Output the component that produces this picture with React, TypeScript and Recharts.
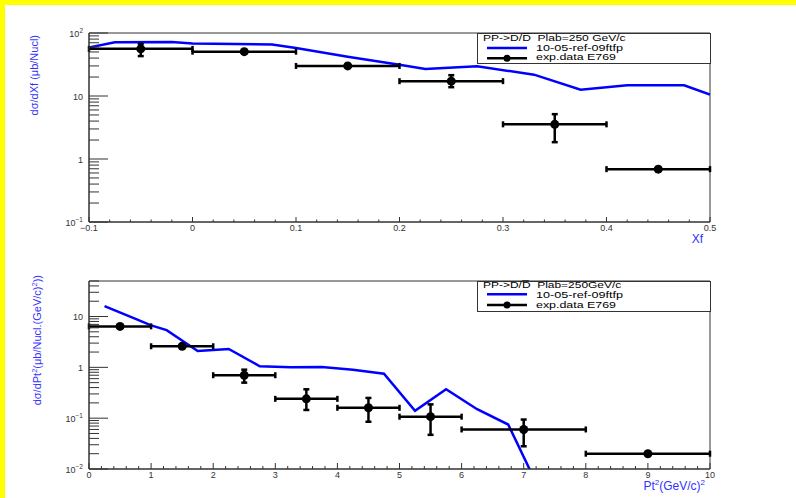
import React from "react";
import {
  ComposedChart,
  Line,
  Scatter,
  XAxis,
  YAxis,
  ErrorBar,
  ReferenceArea,
  Label,
} from "recharts";

// ---------------- data: Xf panel ----------------
const xfBinCenters = [-0.05, 0.05, 0.15, 0.25, 0.35, 0.45];
const xfValues = [56, 50.5, 30, 17.2, 3.55, 0.69];
const xfHalfWidths = [0.05, 0.05, 0.05, 0.05, 0.05, 0.05];
const xfErrLow = [13, 3, 2, 3.4, 1.7, 0.05];
const xfErrHigh = [11, 3, 2, 4.2, 1.6, 0.05];

const xfCurveX = [-0.1, -0.075, -0.02, 0, 0.077, 0.1, 0.15, 0.2, 0.225, 0.275, 0.33, 0.375, 0.42, 0.475, 0.5];
const xfCurveY = [59, 71, 72, 68, 65.7, 58, 42, 31.4, 26.8, 29.6, 21.8, 12.6, 14.8, 14.8, 10.5];

const xfMajorLabels = ["\u22120.1", "0", "0.1", "0.2", "0.3", "0.4", "0.5"];

// ---------------- data: Pt^2 panel ----------------
const ptBinCenters = [0.5, 1.5, 2.5, 3.5, 4.5, 5.5, 7, 9];
const ptValues = [6.4, 2.6, 0.7, 0.24, 0.16, 0.107, 0.06, 0.02];
const ptHalfWidths = [0.5, 0.5, 0.5, 0.5, 0.5, 0.5, 1, 1];
const ptErrLow = [0.4, 0.25, 0.2, 0.095, 0.075, 0.06, 0.032, 0.001];
const ptErrHigh = [0.4, 0.25, 0.2, 0.13, 0.09, 0.08, 0.034, 0.001];

const ptCurveX = [0.25, 0.75, 1.0, 1.25, 1.75, 2.0, 2.25, 2.75, 3.25, 3.75, 4.25, 4.75, 5.25, 5.75, 6.25, 6.75, 7.25];
const ptCurveY = [16, 9.0, 6.7, 5.4, 2.1, 2.2, 2.3, 1.05, 1.0, 1.02, 0.9, 0.75, 0.14, 0.37, 0.15, 0.075, 0.004];

const ptMajorLabels = ["0", "1", "2", "3", "4", "5", "6", "7", "8", "9", "10"];

// ---------------- legend texts ----------------
const modelName = "10-05-ref-09ftfp";
const expName = "exp.data E769";
const xfLegendTitle = "PP->D/D\u0305  Plab=250 GeV/c";
const ptLegendTitle = "PP->D/D\u0305  Plab=250GeV/c";

// ---------------- derived tables ----------------
const xfData = xfBinCenters.map((x, i) => ({
  x,
  y: xfValues[i],
  ex: xfHalfWidths[i],
  ey: [xfErrLow[i], xfErrHigh[i]],
}));
const xfCurve = xfCurveX.map((x, i) => ({ x, y: xfCurveY[i] }));
const ptData = ptBinCenters.map((x, i) => ({
  x,
  y: ptValues[i],
  ex: ptHalfWidths[i],
  ey: [ptErrLow[i], ptErrHigh[i]],
}));
const ptCurve = ptCurveX.map((x, i) => ({ x, y: ptCurveY[i] }));

const r3 = (v: number) => Math.round(v * 1000) / 1000;
const xfTicks = Array.from({ length: 31 }, (_, i) => r3(-0.1 + i * 0.02));
const ptTicks = Array.from({ length: 51 }, (_, i) => r3(i * 0.2));

function logTicks(lo: number, hi: number, max: number) {
  const out: number[] = [];
  for (let e = lo; e <= hi; e++) {
    for (let m = 1; m < 10; m++) {
      const v = Number((m * Math.pow(10, e)).toPrecision(3));
      if (v <= max + 1e-9) out.push(v);
    }
  }
  return out;
}
const xfYTicks = logTicks(-1, 2, 100);
const ptYTicks = logTicks(-2, 1, 50);

// ---------------- styling ----------------
const FONT = '"Liberation Sans", Arial, Helvetica, sans-serif';
const BLUE_TEXT = "#3333ff";
const AXIS = "#333333";

function LogTick(props: any) {
  const { x, y, payload } = props;
  const v = payload.value;
  const lg = Math.log10(v);
  const e = Math.round(lg);
  const major = Math.abs(lg - e) < 1e-6;
  return (
    <g>
      <line x1={x} x2={x + (major ? 19 : 10)} y1={y} y2={y} stroke={AXIS} strokeWidth={1} />
      {major && (
        <text x={x - 6} y={y + 3.5} textAnchor="end" fontSize={9} fill={AXIS} fontFamily={FONT}>
          {e === 0 ? (
            "1"
          ) : e === 1 ? (
            "10"
          ) : (
            <>
              10
              <tspan dy={-4} fontSize={6.5}>
                {e < 0 ? "\u2212" + -e : String(e)}
              </tspan>
            </>
          )}
        </text>
      )}
    </g>
  );
}

function makeXTick(origin: number, majorStep: number, labels: string[], majorLen: number, minorLen: number) {
  return function XTick(props: any) {
    const { x, y, payload } = props;
    const v = payload.value;
    const r = (v - origin) / majorStep;
    const k = Math.round(r);
    const major = Math.abs(r - k) < 1e-6;
    return (
      <g>
        <line x1={x} x2={x} y1={y} y2={y - (major ? majorLen : minorLen)} stroke={AXIS} strokeWidth={1} />
        {major && (
          <text x={x} y={y + 9} textAnchor="middle" fontSize={9} fill={AXIS} fontFamily={FONT}>
            {labels[k]}
          </text>
        )}
      </g>
    );
  };
}

const xfTick = makeXTick(-0.1, 0.1, xfMajorLabels, 5, 2.5);
const ptTick = makeXTick(0, 1, ptMajorLabels, 6, 3);

const ExpDot = (p: any) => <circle cx={p.cx} cy={p.cy} r={4.5} fill="#000" />;

function LegendBox(props: {
  left: number;
  top: number;
  title: string;
  titleScale: number;
  rows: number[];
}) {
  const { left, top, title, titleScale, rows } = props;
  return (
    <svg
      style={{ position: "absolute", left, top, overflow: "visible" }}
      width={234}
      height={31}
    >
      <rect x={0.5} y={0.5} width={233} height={30} fill="#fff" stroke={AXIS} strokeWidth={1} />
      <text
        x={0}
        y={0}
        transform={`translate(6 ${rows[0]}) scale(${titleScale} 1)`}
        fontSize={9.5}
        fontFamily={FONT}
        fill="#000"
        style={{ whiteSpace: "pre" }}
      >
        {title}
      </text>
      <line x1={10} x2={50} y1={rows[3]} y2={rows[3]} stroke="#0000ff" strokeWidth={2.5} />
      <text x={59} y={rows[1]} fontSize={9.5} fontFamily={FONT} fill="#000" textLength={87} lengthAdjust="spacingAndGlyphs">
        {modelName}
      </text>
      <line x1={10} x2={50} y1={rows[4]} y2={rows[4]} stroke="#000" strokeWidth={2.5} />
      <circle cx={30} cy={rows[4]} r={3.5} fill="#000" />
      <text x={59} y={rows[2]} fontSize={9.5} fontFamily={FONT} fill="#000" textLength={80} lengthAdjust="spacingAndGlyphs">
        {expName}
      </text>
    </svg>
  );
}

function XfPanel() {
  return (
    <ComposedChart width={796} height={249} margin={{ top: 33, right: 86, bottom: 0, left: 0 }}>
      <XAxis
        type="number"
        dataKey="x"
        domain={[-0.1, 0.5]}
        allowDataOverflow
        ticks={xfTicks}
        interval={0}
        tickSize={0}
        tickMargin={0}
        tickLine={false}
        tick={xfTick}
        height={27}
        axisLine={{ stroke: AXIS }}
      >
        <Label
          content={() => (
            <text x={703} y={243} textAnchor="end" fontSize={12} fill={BLUE_TEXT} fontFamily={FONT}>
              Xf
            </text>
          )}
        />
      </XAxis>
      <YAxis
        type="number"
        dataKey="y"
        scale="log"
        domain={[0.1, 100]}
        allowDataOverflow
        ticks={xfYTicks}
        interval={0}
        tickSize={0}
        tickMargin={0}
        tickLine={false}
        tick={LogTick}
        width={89}
        axisLine={{ stroke: AXIS }}
      >
        <Label
          content={() => (
            <text
              x={38}
              y={35}
              transform="rotate(-90, 38, 35)"
              textAnchor="end"
              fontSize={11}
              fill={BLUE_TEXT}
              fontFamily={FONT}
            >
              {"d\u03c3/dXf (\u03bcb/Nucl)"}
            </text>
          )}
        />
      </YAxis>
      <ReferenceArea x1={-0.1} x2={0.5} y1={0.1} y2={100} fill="none" stroke={AXIS} strokeWidth={1} ifOverflow="visible" />
      <Line
        data={xfCurve}
        dataKey="y"
        type="linear"
        stroke="#0000ff"
        strokeWidth={2.5}
        dot={false}
        isAnimationActive={false}
      />
      <Scatter data={xfData} dataKey="y" shape={ExpDot} isAnimationActive={false}>
        <ErrorBar dataKey="ex" direction="x" width={3} stroke="#000" strokeWidth={2.5} isAnimationActive={false} />
        <ErrorBar dataKey="ey" direction="y" width={3} stroke="#000" strokeWidth={2.5} isAnimationActive={false} />
      </Scatter>
    </ComposedChart>
  );
}

function PtPanel() {
  return (
    <ComposedChart width={796} height={249} margin={{ top: 32, right: 86, bottom: 0, left: 0 }}>
      <XAxis
        type="number"
        dataKey="x"
        domain={[0, 10]}
        allowDataOverflow
        ticks={ptTicks}
        interval={0}
        tickSize={0}
        tickMargin={0}
        tickLine={false}
        tick={ptTick}
        height={29}
        axisLine={{ stroke: AXIS }}
      >
        <Label
          content={() => (
            <text x={705} y={241} textAnchor="end" fontSize={12} fill={BLUE_TEXT} fontFamily={FONT}>
              Pt
              <tspan dy={-5} fontSize={8}>2</tspan>
              <tspan dy={5}>(GeV/c)</tspan>
              <tspan dy={-5} fontSize={8}>2</tspan>
            </text>
          )}
        />
      </XAxis>
      <YAxis
        type="number"
        dataKey="y"
        scale="log"
        domain={[0.01, 50]}
        allowDataOverflow
        ticks={ptYTicks}
        interval={0}
        tickSize={0}
        tickMargin={0}
        tickLine={false}
        tick={LogTick}
        width={89}
        axisLine={{ stroke: AXIS }}
      >
        <Label
          content={() => (
            <text
              x={41}
              y={26}
              transform="rotate(-90, 41, 26)"
              textAnchor="end"
              fontSize={11}
              fill={BLUE_TEXT}
              fontFamily={FONT}
            >
              {"d\u03c3/dPt"}
              <tspan dy={-4} fontSize={7.5}>2</tspan>
              <tspan dy={4}>{"(\u03bcb/Nucl.(GeV/c)"}</tspan>
              <tspan dy={-4} fontSize={7.5}>2</tspan>
              <tspan dy={4}>{"))"}</tspan>
            </text>
          )}
        />
      </YAxis>
      <ReferenceArea x1={0} x2={10} y1={0.01} y2={50} fill="none" stroke={AXIS} strokeWidth={1} ifOverflow="visible" />
      <Line
        data={ptCurve}
        dataKey="y"
        type="linear"
        stroke="#0000ff"
        strokeWidth={2.5}
        dot={false}
        isAnimationActive={false}
      />
      <Scatter data={ptData} dataKey="y" shape={ExpDot} isAnimationActive={false}>
        <ErrorBar dataKey="ex" direction="x" width={3} stroke="#000" strokeWidth={2.5} isAnimationActive={false} />
        <ErrorBar dataKey="ey" direction="y" width={3} stroke="#000" strokeWidth={2.5} isAnimationActive={false} />
      </Scatter>
    </ComposedChart>
  );
}

export default function App() {
  return (
    <div
      style={{
        position: "absolute",
        left: 0,
        top: 0,
        width: 796,
        height: 498,
        background: "#ffff00",
        overflow: "hidden",
      }}
    >
      <div style={{ position: "absolute", left: 5, top: 5, width: 791, height: 493, background: "#fff" }} />
      <div style={{ position: "absolute", left: 0, top: 0 }}>
        <XfPanel />
      </div>
      <div style={{ position: "absolute", left: 0, top: 249 }}>
        <PtPanel />
      </div>
      <LegendBox left={477} top={33} title={xfLegendTitle} titleScale={1.27} rows={[8, 17.7, 27.3, 15, 25.3]} />
      <LegendBox left={477} top={281} title={ptLegendTitle} titleScale={1.26} rows={[7.3, 17.2, 26.7, 13.3, 24]} />
    </div>
  );
}
